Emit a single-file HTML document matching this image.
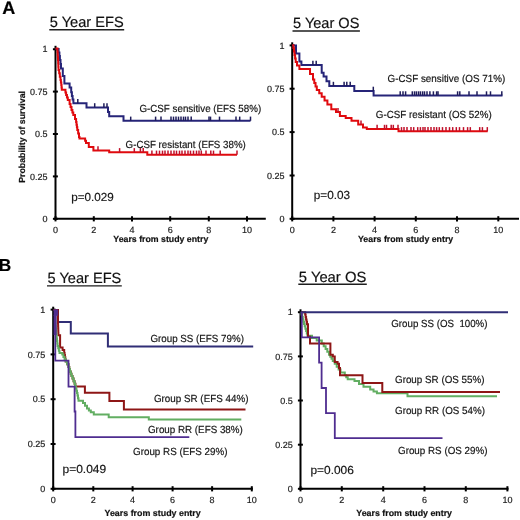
<!DOCTYPE html>
<html><head><meta charset="utf-8"><style>
html,body{margin:0;padding:0;background:#fff;}
body{width:520px;height:520px;overflow:hidden;}
svg{display:block;font-family:"Liberation Sans", sans-serif;text-rendering:geometricPrecision;filter:blur(0.35px);}
text{stroke-width:0.18px;}
</style></head><body>
<svg width="520" height="520" viewBox="0 0 520 520">
<rect width="520" height="520" fill="#fff"/>
<text x="2.2" y="14.4" font-size="18" font-weight="bold" fill="#000" stroke="#000">A</text>
<text x="-1.2" y="271.2" font-size="17.3" font-weight="bold" fill="#000" stroke="#000">B</text>
<text x="49.8" y="27.2" font-size="14.8" fill="#111" stroke="#111" textLength="73.9" lengthAdjust="spacingAndGlyphs">5 Year EFS</text><line x1="49.3" y1="29.8" x2="124.2" y2="29.8" stroke="#1e1e1e" stroke-width="1.4"/>
<line x1="55.5" y1="45.8" x2="55.5" y2="219.8" stroke="#000" stroke-width="2"/><line x1="54.5" y1="218.8" x2="265.8" y2="218.8" stroke="#000" stroke-width="2"/><line x1="52.9" y1="49.25" x2="57.9" y2="49.25" stroke="#000" stroke-width="2"/><text x="47.6" y="52.45" text-anchor="end" font-size="9" fill="#222" stroke="#222">1</text><line x1="52.9" y1="91.6" x2="57.9" y2="91.6" stroke="#000" stroke-width="2"/><text x="47.6" y="94.80" text-anchor="end" font-size="9" fill="#222" stroke="#222">0.75</text><line x1="52.9" y1="134.0" x2="57.9" y2="134.0" stroke="#000" stroke-width="2"/><text x="47.6" y="137.20" text-anchor="end" font-size="9" fill="#222" stroke="#222">0.5</text><line x1="52.9" y1="176.4" x2="57.9" y2="176.4" stroke="#000" stroke-width="2"/><text x="47.6" y="179.60" text-anchor="end" font-size="9" fill="#222" stroke="#222">0.25</text><line x1="52.9" y1="218.8" x2="57.9" y2="218.8" stroke="#000" stroke-width="2"/><text x="47.6" y="222.00" text-anchor="end" font-size="9" fill="#222" stroke="#222">0</text><line x1="55.5" y1="216.20000000000002" x2="55.5" y2="221.4" stroke="#000" stroke-width="2"/><text x="55.5" y="233.0" text-anchor="middle" font-size="9" fill="#222" stroke="#222">0</text><line x1="93.8" y1="216.20000000000002" x2="93.8" y2="221.4" stroke="#000" stroke-width="2"/><text x="93.8" y="233.0" text-anchor="middle" font-size="9" fill="#222" stroke="#222">2</text><line x1="132" y1="216.20000000000002" x2="132" y2="221.4" stroke="#000" stroke-width="2"/><text x="132" y="233.0" text-anchor="middle" font-size="9" fill="#222" stroke="#222">4</text><line x1="170.2" y1="216.20000000000002" x2="170.2" y2="221.4" stroke="#000" stroke-width="2"/><text x="170.2" y="233.0" text-anchor="middle" font-size="9" fill="#222" stroke="#222">6</text><line x1="208.8" y1="216.20000000000002" x2="208.8" y2="221.4" stroke="#000" stroke-width="2"/><text x="208.8" y="233.0" text-anchor="middle" font-size="9" fill="#222" stroke="#222">8</text><line x1="247" y1="216.20000000000002" x2="247" y2="221.4" stroke="#000" stroke-width="2"/><text x="247" y="233.0" text-anchor="middle" font-size="9" fill="#222" stroke="#222">10</text>
<text transform="translate(24.6,136.9) rotate(-90)" text-anchor="middle" font-size="8.8" font-weight="bold" fill="#111" stroke="#111" textLength="91.8" lengthAdjust="spacingAndGlyphs">Probability of survival</text>
<text x="113.3" y="241.8" font-size="8.8" font-weight="bold" fill="#111" stroke="#111" textLength="95" lengthAdjust="spacingAndGlyphs">Years from study entry</text>
<text x="71.3" y="201.0" font-size="11.7" font-weight="normal" fill="#151515" stroke="#151515" textLength="42.5" lengthAdjust="spacingAndGlyphs">p=0.029</text>
<polyline points="55.50,49.00 58.60,49.00 58.60,52.40 59.40,52.40 59.40,56.00 59.90,56.00 59.90,60.00 60.50,60.00 60.50,64.00 61.00,64.00 61.00,68.50 62.80,68.50 62.80,76.00 64.40,76.00 64.40,83.40 69.60,83.40 69.60,87.60 71.20,87.60 71.20,92.20 71.90,92.20 71.90,96.00 72.60,96.00 72.60,99.50 73.40,99.50 73.40,103.20 86.50,103.20 86.50,107.40 108.00,107.40 108.00,112.00 109.20,112.00 109.20,116.20 123.50,116.20 123.50,120.80 250.50,120.80" fill="none" stroke="#262478" stroke-width="2" stroke-linejoin="miter" stroke-linecap="butt"/>
<line x1="77.80" y1="103.20" x2="77.80" y2="99.00" stroke="#1e1c5a" stroke-width="1.5"/><line x1="94.70" y1="107.40" x2="94.70" y2="103.20" stroke="#1e1c5a" stroke-width="1.5"/><line x1="103.90" y1="107.40" x2="103.90" y2="103.20" stroke="#1e1c5a" stroke-width="1.5"/><line x1="107.00" y1="107.40" x2="107.00" y2="103.20" stroke="#1e1c5a" stroke-width="1.5"/><line x1="130.70" y1="120.80" x2="130.70" y2="116.60" stroke="#1e1c5a" stroke-width="1.5"/><line x1="155.60" y1="120.80" x2="155.60" y2="116.60" stroke="#1e1c5a" stroke-width="1.5"/><line x1="161.00" y1="120.80" x2="161.00" y2="116.60" stroke="#1e1c5a" stroke-width="1.5"/><line x1="171.00" y1="120.80" x2="171.00" y2="116.60" stroke="#1e1c5a" stroke-width="1.5"/><line x1="173.50" y1="120.80" x2="173.50" y2="116.60" stroke="#1e1c5a" stroke-width="1.5"/><line x1="176.00" y1="120.80" x2="176.00" y2="116.60" stroke="#1e1c5a" stroke-width="1.5"/><line x1="178.50" y1="120.80" x2="178.50" y2="116.60" stroke="#1e1c5a" stroke-width="1.5"/><line x1="181.00" y1="120.80" x2="181.00" y2="116.60" stroke="#1e1c5a" stroke-width="1.5"/><line x1="183.50" y1="120.80" x2="183.50" y2="116.60" stroke="#1e1c5a" stroke-width="1.5"/><line x1="185.50" y1="120.80" x2="185.50" y2="116.60" stroke="#1e1c5a" stroke-width="1.5"/><line x1="188.00" y1="120.80" x2="188.00" y2="116.60" stroke="#1e1c5a" stroke-width="1.5"/><line x1="191.20" y1="120.80" x2="191.20" y2="116.60" stroke="#1e1c5a" stroke-width="1.5"/><line x1="209.00" y1="120.80" x2="209.00" y2="116.60" stroke="#1e1c5a" stroke-width="1.5"/><line x1="210.50" y1="120.80" x2="210.50" y2="116.60" stroke="#1e1c5a" stroke-width="1.5"/><line x1="219.50" y1="120.80" x2="219.50" y2="116.60" stroke="#1e1c5a" stroke-width="1.5"/><line x1="236.00" y1="120.80" x2="236.00" y2="116.60" stroke="#1e1c5a" stroke-width="1.5"/><line x1="239.70" y1="120.80" x2="239.70" y2="116.60" stroke="#1e1c5a" stroke-width="1.5"/><line x1="250.50" y1="120.80" x2="250.50" y2="116.60" stroke="#1e1c5a" stroke-width="1.5"/>
<polyline points="55.50,48.60 57.00,48.60 57.50,48.60 57.50,52.00 57.67,52.00 57.67,54.67 57.83,54.67 57.83,57.33 58.00,57.33 58.00,60.00 58.17,60.00 58.17,63.33 58.33,63.33 58.33,66.67 58.50,66.67 58.50,70.00 59.17,70.00 59.17,73.33 59.83,73.33 59.83,76.67 60.50,76.67 60.50,80.00 60.90,80.00 60.90,82.50 61.30,82.50 61.30,85.00 61.55,85.00 61.55,87.40 61.80,87.40 61.80,89.80 64.80,89.80 65.45,89.80 65.45,92.40 66.10,92.40 66.10,95.00 66.95,95.00 66.95,97.50 67.80,97.50 67.80,100.00 69.60,100.00 69.60,104.00 70.55,104.00 70.55,107.00 71.50,107.00 71.50,110.00 72.40,110.00 72.40,112.50 73.30,112.50 73.30,115.00 75.00,115.00 75.00,119.00 76.10,119.00 76.10,122.00 76.50,122.00 76.50,124.67 76.90,124.67 76.90,127.33 77.30,127.33 77.30,130.00 78.15,130.00 78.15,133.50 79.00,133.50 79.00,137.00 79.50,137.00 79.50,138.40 84.20,138.40 85.10,138.40 85.10,140.70 86.00,140.70 86.00,143.00 88.80,143.00 88.80,147.00 93.40,147.00 93.40,150.50 109.20,150.50 109.20,152.30 147.30,152.30 147.30,154.80 237.00,154.80" fill="none" stroke="#e00a0e" stroke-width="2" stroke-linejoin="miter" stroke-linecap="butt"/>
<line x1="98.00" y1="150.50" x2="98.00" y2="146.30" stroke="#c0102a" stroke-width="1.5"/><line x1="119.60" y1="152.30" x2="119.60" y2="148.10" stroke="#c0102a" stroke-width="1.5"/><line x1="134.30" y1="152.30" x2="134.30" y2="148.10" stroke="#c0102a" stroke-width="1.5"/><line x1="140.40" y1="152.30" x2="140.40" y2="148.10" stroke="#c0102a" stroke-width="1.5"/><line x1="143.20" y1="152.30" x2="143.20" y2="148.10" stroke="#c0102a" stroke-width="1.5"/><line x1="151.90" y1="154.80" x2="151.90" y2="150.60" stroke="#c0102a" stroke-width="1.5"/><line x1="156.50" y1="154.80" x2="156.50" y2="150.60" stroke="#c0102a" stroke-width="1.5"/><line x1="159.50" y1="154.80" x2="159.50" y2="150.60" stroke="#c0102a" stroke-width="1.5"/><line x1="162.50" y1="154.80" x2="162.50" y2="150.60" stroke="#c0102a" stroke-width="1.5"/><line x1="165.00" y1="154.80" x2="165.00" y2="150.60" stroke="#c0102a" stroke-width="1.5"/><line x1="168.00" y1="154.80" x2="168.00" y2="150.60" stroke="#c0102a" stroke-width="1.5"/><line x1="171.00" y1="154.80" x2="171.00" y2="150.60" stroke="#c0102a" stroke-width="1.5"/><line x1="174.00" y1="154.80" x2="174.00" y2="150.60" stroke="#c0102a" stroke-width="1.5"/><line x1="176.50" y1="154.80" x2="176.50" y2="150.60" stroke="#c0102a" stroke-width="1.5"/><line x1="179.50" y1="154.80" x2="179.50" y2="150.60" stroke="#c0102a" stroke-width="1.5"/><line x1="182.00" y1="154.80" x2="182.00" y2="150.60" stroke="#c0102a" stroke-width="1.5"/><line x1="185.00" y1="154.80" x2="185.00" y2="150.60" stroke="#c0102a" stroke-width="1.5"/><line x1="188.00" y1="154.80" x2="188.00" y2="150.60" stroke="#c0102a" stroke-width="1.5"/><line x1="190.50" y1="154.80" x2="190.50" y2="150.60" stroke="#c0102a" stroke-width="1.5"/><line x1="193.50" y1="154.80" x2="193.50" y2="150.60" stroke="#c0102a" stroke-width="1.5"/><line x1="196.50" y1="154.80" x2="196.50" y2="150.60" stroke="#c0102a" stroke-width="1.5"/><line x1="199.00" y1="154.80" x2="199.00" y2="150.60" stroke="#c0102a" stroke-width="1.5"/><line x1="201.30" y1="154.80" x2="201.30" y2="150.60" stroke="#c0102a" stroke-width="1.5"/><line x1="206.00" y1="154.80" x2="206.00" y2="150.60" stroke="#c0102a" stroke-width="1.5"/><line x1="210.80" y1="154.80" x2="210.80" y2="150.60" stroke="#c0102a" stroke-width="1.5"/><line x1="213.50" y1="154.80" x2="213.50" y2="150.60" stroke="#c0102a" stroke-width="1.5"/><line x1="220.20" y1="154.80" x2="220.20" y2="150.60" stroke="#c0102a" stroke-width="1.5"/><line x1="237.00" y1="154.80" x2="237.00" y2="150.60" stroke="#c0102a" stroke-width="1.5"/>
<text x="139.4" y="111.6" font-size="10.3" font-weight="normal" fill="#151515" stroke="#151515" textLength="121.8" lengthAdjust="spacingAndGlyphs">G-CSF sensitive (EFS 58%)</text>
<text x="125.6" y="148.1" font-size="10.3" font-weight="normal" fill="#151515" stroke="#151515" textLength="120.2" lengthAdjust="spacingAndGlyphs">G-CSF resistant (EFS 38%)</text>
<text x="293.0" y="28.4" font-size="14.8" fill="#111" stroke="#111" textLength="66.4" lengthAdjust="spacingAndGlyphs">5 Year OS</text><line x1="292.5" y1="31.0" x2="359.9" y2="31.0" stroke="#1e1e1e" stroke-width="1.4"/>
<line x1="292.2" y1="42.3" x2="292.2" y2="219.8" stroke="#000" stroke-width="2"/><line x1="291.2" y1="218.8" x2="519" y2="218.8" stroke="#000" stroke-width="2"/><line x1="289.59999999999997" y1="45.4" x2="294.59999999999997" y2="45.4" stroke="#000" stroke-width="2"/><text x="284.6" y="48.60" text-anchor="end" font-size="9" fill="#222" stroke="#222">1</text><line x1="289.59999999999997" y1="88.7" x2="294.59999999999997" y2="88.7" stroke="#000" stroke-width="2"/><text x="284.6" y="91.90" text-anchor="end" font-size="9" fill="#222" stroke="#222">0.75</text><line x1="289.59999999999997" y1="132.1" x2="294.59999999999997" y2="132.1" stroke="#000" stroke-width="2"/><text x="284.6" y="135.30" text-anchor="end" font-size="9" fill="#222" stroke="#222">0.5</text><line x1="289.59999999999997" y1="175.5" x2="294.59999999999997" y2="175.5" stroke="#000" stroke-width="2"/><text x="284.6" y="178.70" text-anchor="end" font-size="9" fill="#222" stroke="#222">0.25</text><line x1="289.59999999999997" y1="218.8" x2="294.59999999999997" y2="218.8" stroke="#000" stroke-width="2"/><text x="284.6" y="222.00" text-anchor="end" font-size="9" fill="#222" stroke="#222">0</text><line x1="292.2" y1="216.20000000000002" x2="292.2" y2="221.4" stroke="#000" stroke-width="2"/><text x="292.2" y="233.0" text-anchor="middle" font-size="9" fill="#222" stroke="#222">0</text><line x1="333.4" y1="216.20000000000002" x2="333.4" y2="221.4" stroke="#000" stroke-width="2"/><text x="333.4" y="233.0" text-anchor="middle" font-size="9" fill="#222" stroke="#222">2</text><line x1="374.6" y1="216.20000000000002" x2="374.6" y2="221.4" stroke="#000" stroke-width="2"/><text x="374.6" y="233.0" text-anchor="middle" font-size="9" fill="#222" stroke="#222">4</text><line x1="415.8" y1="216.20000000000002" x2="415.8" y2="221.4" stroke="#000" stroke-width="2"/><text x="415.8" y="233.0" text-anchor="middle" font-size="9" fill="#222" stroke="#222">6</text><line x1="457" y1="216.20000000000002" x2="457" y2="221.4" stroke="#000" stroke-width="2"/><text x="457" y="233.0" text-anchor="middle" font-size="9" fill="#222" stroke="#222">8</text><line x1="498.3" y1="216.20000000000002" x2="498.3" y2="221.4" stroke="#000" stroke-width="2"/><text x="498.3" y="233.0" text-anchor="middle" font-size="9" fill="#222" stroke="#222">10</text>
<text x="358" y="241.8" font-size="8.8" font-weight="bold" fill="#111" stroke="#111" textLength="95.2" lengthAdjust="spacingAndGlyphs">Years from study entry</text>
<text x="313.8" y="199.1" font-size="11.7" font-weight="normal" fill="#151515" stroke="#151515" textLength="36.3" lengthAdjust="spacingAndGlyphs">p=0.03</text>
<polyline points="292.20,45.40 296.00,45.40 296.00,53.50 299.40,53.50 299.40,61.50 301.40,61.50 301.40,64.90 321.70,64.90 321.70,72.70 323.60,72.70 323.60,76.50 326.50,76.50 326.50,81.30 329.30,81.30 329.30,86.00 354.30,86.00 354.30,90.90 373.60,90.90 373.60,95.50 502.50,95.50" fill="none" stroke="#262478" stroke-width="2" stroke-linejoin="miter" stroke-linecap="butt"/>
<line x1="312.90" y1="64.90" x2="312.90" y2="60.70" stroke="#1e1c5a" stroke-width="1.5"/><line x1="316.20" y1="64.90" x2="316.20" y2="60.70" stroke="#1e1c5a" stroke-width="1.5"/><line x1="333.40" y1="86.00" x2="333.40" y2="81.80" stroke="#1e1c5a" stroke-width="1.5"/><line x1="344.10" y1="86.00" x2="344.10" y2="81.80" stroke="#1e1c5a" stroke-width="1.5"/><line x1="346.80" y1="86.00" x2="346.80" y2="81.80" stroke="#1e1c5a" stroke-width="1.5"/><line x1="350.20" y1="86.00" x2="350.20" y2="81.80" stroke="#1e1c5a" stroke-width="1.5"/><line x1="373.30" y1="90.90" x2="373.30" y2="86.70" stroke="#1e1c5a" stroke-width="1.5"/><line x1="400.20" y1="95.50" x2="400.20" y2="91.30" stroke="#1e1c5a" stroke-width="1.5"/><line x1="403.00" y1="95.50" x2="403.00" y2="91.30" stroke="#1e1c5a" stroke-width="1.5"/><line x1="405.60" y1="95.50" x2="405.60" y2="91.30" stroke="#1e1c5a" stroke-width="1.5"/><line x1="412.30" y1="95.50" x2="412.30" y2="91.30" stroke="#1e1c5a" stroke-width="1.5"/><line x1="414.50" y1="95.50" x2="414.50" y2="91.30" stroke="#1e1c5a" stroke-width="1.5"/><line x1="416.40" y1="95.50" x2="416.40" y2="91.30" stroke="#1e1c5a" stroke-width="1.5"/><line x1="418.50" y1="95.50" x2="418.50" y2="91.30" stroke="#1e1c5a" stroke-width="1.5"/><line x1="420.40" y1="95.50" x2="420.40" y2="91.30" stroke="#1e1c5a" stroke-width="1.5"/><line x1="422.60" y1="95.50" x2="422.60" y2="91.30" stroke="#1e1c5a" stroke-width="1.5"/><line x1="424.50" y1="95.50" x2="424.50" y2="91.30" stroke="#1e1c5a" stroke-width="1.5"/><line x1="427.00" y1="95.50" x2="427.00" y2="91.30" stroke="#1e1c5a" stroke-width="1.5"/><line x1="429.90" y1="95.50" x2="429.90" y2="91.30" stroke="#1e1c5a" stroke-width="1.5"/><line x1="433.40" y1="95.50" x2="433.40" y2="91.30" stroke="#1e1c5a" stroke-width="1.5"/><line x1="436.60" y1="95.50" x2="436.60" y2="91.30" stroke="#1e1c5a" stroke-width="1.5"/><line x1="438.00" y1="95.50" x2="438.00" y2="91.30" stroke="#1e1c5a" stroke-width="1.5"/><line x1="457.60" y1="95.50" x2="457.60" y2="91.30" stroke="#1e1c5a" stroke-width="1.5"/><line x1="459.80" y1="95.50" x2="459.80" y2="91.30" stroke="#1e1c5a" stroke-width="1.5"/><line x1="469.00" y1="95.50" x2="469.00" y2="91.30" stroke="#1e1c5a" stroke-width="1.5"/><line x1="477.00" y1="95.50" x2="477.00" y2="91.30" stroke="#1e1c5a" stroke-width="1.5"/><line x1="486.50" y1="95.50" x2="486.50" y2="91.30" stroke="#1e1c5a" stroke-width="1.5"/><line x1="490.50" y1="95.50" x2="490.50" y2="91.30" stroke="#1e1c5a" stroke-width="1.5"/><line x1="501.80" y1="95.50" x2="501.80" y2="91.30" stroke="#1e1c5a" stroke-width="1.5"/>
<polyline points="292.20,45.20 293.40,45.20 293.40,48.00 293.95,48.00 293.95,51.50 294.50,51.50 294.50,55.00 295.10,55.00 295.10,58.50 295.70,58.50 295.70,62.00 297.00,62.00 297.00,65.60 299.40,65.60 299.40,68.90 307.20,68.90 310.00,68.90 310.00,74.00 313.00,74.00 313.00,79.40 314.27,79.40 314.27,82.93 315.53,82.93 315.53,86.47 316.80,86.47 316.80,90.00 319.25,90.00 319.25,93.35 321.70,93.35 321.70,96.70 324.55,96.70 324.55,100.55 327.40,100.55 327.40,104.40 331.30,104.40 331.30,109.20 336.00,109.20 336.00,112.10 339.90,112.10 339.90,116.00 345.70,116.00 345.70,117.90 351.50,117.90 351.50,120.80 358.20,120.80 358.20,124.60 363.00,124.60 363.00,127.50 366.80,127.50 366.80,129.00 398.50,129.00 398.50,131.30 487.70,131.30" fill="none" stroke="#e00a0e" stroke-width="2" stroke-linejoin="miter" stroke-linecap="butt"/>
<line x1="338.00" y1="112.10" x2="338.00" y2="107.90" stroke="#c0102a" stroke-width="1.5"/><line x1="361.00" y1="124.60" x2="361.00" y2="120.40" stroke="#c0102a" stroke-width="1.5"/><line x1="377.10" y1="129.00" x2="377.10" y2="124.80" stroke="#c0102a" stroke-width="1.5"/><line x1="384.50" y1="129.00" x2="384.50" y2="124.80" stroke="#c0102a" stroke-width="1.5"/><line x1="386.50" y1="129.00" x2="386.50" y2="124.80" stroke="#c0102a" stroke-width="1.5"/><line x1="391.20" y1="129.00" x2="391.20" y2="124.80" stroke="#c0102a" stroke-width="1.5"/><line x1="393.30" y1="129.00" x2="393.30" y2="124.80" stroke="#c0102a" stroke-width="1.5"/><line x1="398.00" y1="129.00" x2="398.00" y2="124.80" stroke="#c0102a" stroke-width="1.5"/><line x1="401.50" y1="131.30" x2="401.50" y2="127.10" stroke="#c0102a" stroke-width="1.5"/><line x1="404.00" y1="131.30" x2="404.00" y2="127.10" stroke="#c0102a" stroke-width="1.5"/><line x1="407.00" y1="131.30" x2="407.00" y2="127.10" stroke="#c0102a" stroke-width="1.5"/><line x1="411.00" y1="131.30" x2="411.00" y2="127.10" stroke="#c0102a" stroke-width="1.5"/><line x1="413.70" y1="131.30" x2="413.70" y2="127.10" stroke="#c0102a" stroke-width="1.5"/><line x1="417.70" y1="131.30" x2="417.70" y2="127.10" stroke="#c0102a" stroke-width="1.5"/><line x1="420.40" y1="131.30" x2="420.40" y2="127.10" stroke="#c0102a" stroke-width="1.5"/><line x1="423.00" y1="131.30" x2="423.00" y2="127.10" stroke="#c0102a" stroke-width="1.5"/><line x1="425.00" y1="131.30" x2="425.00" y2="127.10" stroke="#c0102a" stroke-width="1.5"/><line x1="428.00" y1="131.30" x2="428.00" y2="127.10" stroke="#c0102a" stroke-width="1.5"/><line x1="431.00" y1="131.30" x2="431.00" y2="127.10" stroke="#c0102a" stroke-width="1.5"/><line x1="434.00" y1="131.30" x2="434.00" y2="127.10" stroke="#c0102a" stroke-width="1.5"/><line x1="436.60" y1="131.30" x2="436.60" y2="127.10" stroke="#c0102a" stroke-width="1.5"/><line x1="439.30" y1="131.30" x2="439.30" y2="127.10" stroke="#c0102a" stroke-width="1.5"/><line x1="442.50" y1="131.30" x2="442.50" y2="127.10" stroke="#c0102a" stroke-width="1.5"/><line x1="446.00" y1="131.30" x2="446.00" y2="127.10" stroke="#c0102a" stroke-width="1.5"/><line x1="449.50" y1="131.30" x2="449.50" y2="127.10" stroke="#c0102a" stroke-width="1.5"/><line x1="452.70" y1="131.30" x2="452.70" y2="127.10" stroke="#c0102a" stroke-width="1.5"/><line x1="456.30" y1="131.30" x2="456.30" y2="127.10" stroke="#c0102a" stroke-width="1.5"/><line x1="459.50" y1="131.30" x2="459.50" y2="127.10" stroke="#c0102a" stroke-width="1.5"/><line x1="463.50" y1="131.30" x2="463.50" y2="127.10" stroke="#c0102a" stroke-width="1.5"/><line x1="467.60" y1="131.30" x2="467.60" y2="127.10" stroke="#c0102a" stroke-width="1.5"/><line x1="470.30" y1="131.30" x2="470.30" y2="127.10" stroke="#c0102a" stroke-width="1.5"/><line x1="479.70" y1="131.30" x2="479.70" y2="127.10" stroke="#c0102a" stroke-width="1.5"/><line x1="482.40" y1="131.30" x2="482.40" y2="127.10" stroke="#c0102a" stroke-width="1.5"/><line x1="487.30" y1="131.30" x2="487.30" y2="127.10" stroke="#c0102a" stroke-width="1.5"/>
<text x="387.5" y="82.4" font-size="10.3" font-weight="normal" fill="#151515" stroke="#151515" textLength="117.7" lengthAdjust="spacingAndGlyphs">G-CSF sensitive (OS 71%)</text>
<text x="375.8" y="117.9" font-size="10.3" font-weight="normal" fill="#151515" stroke="#151515" textLength="115.9" lengthAdjust="spacingAndGlyphs">G-CSF resistant (OS 52%)</text>
<text x="47.5" y="283.2" font-size="14.8" fill="#111" stroke="#111" textLength="73.8" lengthAdjust="spacingAndGlyphs">5 Year EFS</text><line x1="47.0" y1="285.9" x2="121.8" y2="285.9" stroke="#1e1e1e" stroke-width="1.4"/>
<line x1="53.2" y1="306.7" x2="53.2" y2="489.8" stroke="#000" stroke-width="2"/><line x1="52.2" y1="488.8" x2="252.8" y2="488.8" stroke="#000" stroke-width="2"/><line x1="50.6" y1="309.6" x2="55.6" y2="309.6" stroke="#000" stroke-width="2"/><text x="45.2" y="312.80" text-anchor="end" font-size="9" fill="#222" stroke="#222">1</text><line x1="50.6" y1="354.4" x2="55.6" y2="354.4" stroke="#000" stroke-width="2"/><text x="45.2" y="357.60" text-anchor="end" font-size="9" fill="#222" stroke="#222">0.75</text><line x1="50.6" y1="399.2" x2="55.6" y2="399.2" stroke="#000" stroke-width="2"/><text x="45.2" y="402.40" text-anchor="end" font-size="9" fill="#222" stroke="#222">0.5</text><line x1="50.6" y1="444.0" x2="55.6" y2="444.0" stroke="#000" stroke-width="2"/><text x="45.2" y="447.20" text-anchor="end" font-size="9" fill="#222" stroke="#222">0.25</text><line x1="50.6" y1="488.8" x2="55.6" y2="488.8" stroke="#000" stroke-width="2"/><text x="45.2" y="492.00" text-anchor="end" font-size="9" fill="#222" stroke="#222">0</text><line x1="53.2" y1="486.2" x2="53.2" y2="491.40000000000003" stroke="#000" stroke-width="2"/><text x="53.2" y="502.5" text-anchor="middle" font-size="9" fill="#222" stroke="#222">0</text><line x1="93.3" y1="486.2" x2="93.3" y2="491.40000000000003" stroke="#000" stroke-width="2"/><text x="93.3" y="502.5" text-anchor="middle" font-size="9" fill="#222" stroke="#222">2</text><line x1="132.6" y1="486.2" x2="132.6" y2="491.40000000000003" stroke="#000" stroke-width="2"/><text x="132.6" y="502.5" text-anchor="middle" font-size="9" fill="#222" stroke="#222">4</text><line x1="172.6" y1="486.2" x2="172.6" y2="491.40000000000003" stroke="#000" stroke-width="2"/><text x="172.6" y="502.5" text-anchor="middle" font-size="9" fill="#222" stroke="#222">6</text><line x1="212.1" y1="486.2" x2="212.1" y2="491.40000000000003" stroke="#000" stroke-width="2"/><text x="212.1" y="502.5" text-anchor="middle" font-size="9" fill="#222" stroke="#222">8</text><line x1="251.8" y1="486.2" x2="251.8" y2="491.40000000000003" stroke="#000" stroke-width="2"/><text x="251.8" y="502.5" text-anchor="middle" font-size="9" fill="#222" stroke="#222">10</text>
<text x="104.5" y="515.5" font-size="8.8" font-weight="bold" fill="#111" stroke="#111" textLength="96.2" lengthAdjust="spacingAndGlyphs">Years from study entry</text>
<text x="62.5" y="473.0" font-size="11.7" font-weight="normal" fill="#151515" stroke="#151515" textLength="43.7" lengthAdjust="spacingAndGlyphs">p=0.049</text>
<polyline points="53.50,310.00 58.00,310.00 58.00,322.00 70.80,322.00 70.80,333.60 107.90,333.60 107.90,346.60 253.20,346.60" fill="none" stroke="#302e76" stroke-width="2" stroke-linejoin="miter" stroke-linecap="butt"/>
<polyline points="53.50,310.00 57.80,310.00 57.80,316.00 57.88,316.00 57.88,318.50 57.95,318.50 57.95,321.00 58.02,321.00 58.02,323.50 58.10,323.50 58.10,326.00 58.17,326.00 58.17,328.32 58.25,328.32 58.25,330.65 58.33,330.65 58.33,332.98 58.40,332.98 58.40,335.30 60.10,335.30 60.10,347.50 61.80,347.50 62.60,347.50 62.60,350.00 64.20,350.00 64.20,353.00 64.58,353.00 64.58,355.12 64.95,355.12 64.95,357.25 65.33,357.25 65.33,359.38 65.70,359.38 65.70,361.50 67.10,361.50 67.10,364.25 68.50,364.25 68.50,367.00 69.25,367.00 69.25,369.25 70.00,369.25 70.00,371.50 70.75,371.50 70.75,373.75 71.50,373.75 71.50,376.00 72.53,376.00 72.53,378.60 73.57,378.60 73.57,381.20 74.60,381.20 74.60,383.80 75.40,383.80 75.40,386.60 84.90,386.60 84.90,392.80 109.40,392.80 109.40,401.00 123.90,401.00 123.90,409.60 245.50,409.60" fill="none" stroke="#8e1616" stroke-width="2" stroke-linejoin="miter" stroke-linecap="butt"/>
<polyline points="55.00,310.00 55.00,318.00 55.17,318.00 55.17,320.67 55.33,320.67 55.33,323.33 55.50,323.33 55.50,326.00 55.73,326.00 55.73,328.50 55.95,328.50 55.95,331.00 56.17,331.00 56.17,333.50 56.40,333.50 56.40,336.00 56.70,336.00 56.70,338.50 57.00,338.50 57.00,341.00 57.30,341.00 57.30,343.50 57.60,343.50 57.60,346.00 58.23,346.00 58.23,348.33 58.87,348.33 58.87,350.67 59.50,350.67 59.50,353.00 62.30,353.00 62.30,354.60 63.43,354.60 63.43,356.90 64.57,356.90 64.57,359.20 65.70,359.20 65.70,361.50 67.10,361.50 67.10,364.25 68.50,364.25 68.50,367.00 69.25,367.00 69.25,369.25 70.00,369.25 70.00,371.50 70.75,371.50 70.75,373.75 71.50,373.75 71.50,376.00 72.53,376.00 72.53,378.60 73.57,378.60 73.57,381.20 74.60,381.20 74.60,383.80 75.20,383.80 75.20,386.10 75.80,386.10 75.80,388.40 76.40,388.40 76.40,390.70 77.00,390.70 77.00,393.00 77.50,393.00 77.50,395.60 78.00,395.60 78.00,398.20 78.50,398.20 78.50,400.80 83.00,400.80 83.00,403.00 85.00,403.00 85.00,405.75 87.00,405.75 87.00,408.50 88.90,408.50 88.90,410.40 90.80,410.40 90.80,412.30 93.80,412.30 93.80,414.60 108.70,414.60 108.70,417.20 148.80,417.20 148.80,419.60 241.30,419.60" fill="none" stroke="#62ae62" stroke-width="2" stroke-linejoin="miter" stroke-linecap="butt"/>
<polyline points="55.30,310.20 55.30,360.60 68.50,360.60 68.50,386.60 74.60,386.60 74.60,411.50 75.40,411.50 75.40,437.20 189.30,437.20" fill="none" stroke="#4f2d90" stroke-width="1.8" stroke-linejoin="miter" stroke-linecap="butt"/>
<rect x="53.6" y="309.3" width="4.3" height="6.4" fill="#4f2d90"/><rect x="53.6" y="315" width="3.0" height="20" fill="#4f2d90"/>
<text x="150.4" y="341.9" font-size="10.3" font-weight="normal" fill="#151515" stroke="#151515" textLength="93.5" lengthAdjust="spacingAndGlyphs">Group SS (EFS 79%)</text>
<text x="153.9" y="402.0" font-size="10.3" font-weight="normal" fill="#151515" stroke="#151515" textLength="94.6" lengthAdjust="spacingAndGlyphs">Group SR (EFS 44%)</text>
<text x="148.0" y="432.6" font-size="10.3" font-weight="normal" fill="#151515" stroke="#151515" textLength="94.8" lengthAdjust="spacingAndGlyphs">Group RR (EFS 38%)</text>
<text x="133.0" y="454.5" font-size="10.3" font-weight="normal" fill="#151515" stroke="#151515" textLength="94.5" lengthAdjust="spacingAndGlyphs">Group RS (EFS 29%)</text>
<text x="298.8" y="281.7" font-size="14.8" fill="#111" stroke="#111" textLength="67.5" lengthAdjust="spacingAndGlyphs">5 Year OS</text><line x1="298.3" y1="284.2" x2="366.8" y2="284.2" stroke="#1e1e1e" stroke-width="1.4"/>
<line x1="300.5" y1="309.3" x2="300.5" y2="489.8" stroke="#000" stroke-width="2"/><line x1="299.5" y1="488.8" x2="508.5" y2="488.8" stroke="#000" stroke-width="2"/><line x1="297.9" y1="312.2" x2="302.9" y2="312.2" stroke="#000" stroke-width="2"/><text x="292.7" y="315.40" text-anchor="end" font-size="9" fill="#222" stroke="#222">1</text><line x1="297.9" y1="356.4" x2="302.9" y2="356.4" stroke="#000" stroke-width="2"/><text x="292.7" y="359.60" text-anchor="end" font-size="9" fill="#222" stroke="#222">0.75</text><line x1="297.9" y1="400.5" x2="302.9" y2="400.5" stroke="#000" stroke-width="2"/><text x="292.7" y="403.70" text-anchor="end" font-size="9" fill="#222" stroke="#222">0.5</text><line x1="297.9" y1="444.7" x2="302.9" y2="444.7" stroke="#000" stroke-width="2"/><text x="292.7" y="447.90" text-anchor="end" font-size="9" fill="#222" stroke="#222">0.25</text><line x1="297.9" y1="488.8" x2="302.9" y2="488.8" stroke="#000" stroke-width="2"/><text x="292.7" y="492.00" text-anchor="end" font-size="9" fill="#222" stroke="#222">0</text><line x1="300.5" y1="486.2" x2="300.5" y2="491.40000000000003" stroke="#000" stroke-width="2"/><text x="300.5" y="502.5" text-anchor="middle" font-size="9" fill="#222" stroke="#222">0</text><line x1="341.8" y1="486.2" x2="341.8" y2="491.40000000000003" stroke="#000" stroke-width="2"/><text x="341.8" y="502.5" text-anchor="middle" font-size="9" fill="#222" stroke="#222">2</text><line x1="383.2" y1="486.2" x2="383.2" y2="491.40000000000003" stroke="#000" stroke-width="2"/><text x="383.2" y="502.5" text-anchor="middle" font-size="9" fill="#222" stroke="#222">4</text><line x1="424.5" y1="486.2" x2="424.5" y2="491.40000000000003" stroke="#000" stroke-width="2"/><text x="424.5" y="502.5" text-anchor="middle" font-size="9" fill="#222" stroke="#222">6</text><line x1="465.8" y1="486.2" x2="465.8" y2="491.40000000000003" stroke="#000" stroke-width="2"/><text x="465.8" y="502.5" text-anchor="middle" font-size="9" fill="#222" stroke="#222">8</text><line x1="507.4" y1="486.2" x2="507.4" y2="491.40000000000003" stroke="#000" stroke-width="2"/><text x="507.4" y="502.5" text-anchor="middle" font-size="9" fill="#222" stroke="#222">10</text>
<text x="356.3" y="515.5" font-size="8.8" font-weight="bold" fill="#111" stroke="#111" textLength="95.7" lengthAdjust="spacingAndGlyphs">Years from study entry</text>
<text x="310.5" y="474.0" font-size="11.7" font-weight="normal" fill="#151515" stroke="#151515" textLength="43.3" lengthAdjust="spacingAndGlyphs">p=0.006</text>
<polyline points="301.00,312.20 301.60,312.20 301.60,314.56 302.20,314.56 302.20,316.92 302.80,316.92 302.80,319.28 303.40,319.28 303.40,321.64 304.00,321.64 304.00,324.00 304.70,324.00 304.70,326.36 305.40,326.36 305.40,328.72 306.10,328.72 306.10,331.08 306.80,331.08 306.80,333.44 307.50,333.44 307.50,335.80 312.00,335.80 312.00,338.00 316.70,338.00 316.70,340.60 321.80,340.60 321.80,343.60 323.70,343.60 323.70,346.25 325.60,346.25 325.60,348.90 327.30,348.90 327.30,351.80 329.00,351.80 329.00,354.70 330.27,354.70 330.27,356.77 331.53,356.77 331.53,358.83 332.80,358.83 332.80,360.90 334.75,360.90 334.75,363.80 336.70,363.80 336.70,366.70 338.60,366.70 338.60,369.60 340.50,369.60 340.50,372.50 344.80,372.50 344.80,375.30 346.25,375.30 346.25,377.25 347.70,377.25 347.70,379.20 354.50,379.20 354.50,381.10 359.00,381.10 359.00,383.90 363.50,383.90 363.50,386.70 370.20,386.70 370.20,389.60 373.55,389.60 373.55,391.45 376.90,391.45 376.90,393.30 407.50,393.30 407.50,396.20 497.00,396.20" fill="none" stroke="#62ae62" stroke-width="2" stroke-linejoin="miter" stroke-linecap="butt"/>
<polyline points="301.00,312.20 304.70,312.20 305.16,312.20 305.16,314.60 305.62,314.60 305.62,317.00 306.08,317.00 306.08,319.40 306.54,319.40 306.54,321.80 307.00,321.80 307.00,324.20 308.00,324.20 308.00,336.70 310.00,336.70 310.00,343.60 330.40,343.60 330.40,354.70 332.80,354.70 332.80,356.60 334.75,356.60 334.75,358.00 334.75,361.90 337.60,361.90 337.60,363.80 339.00,363.80 339.00,368.10 340.00,368.10 340.00,375.20 362.50,375.20 362.50,382.90 382.30,382.90 382.30,392.00 500.00,392.00" fill="none" stroke="#8e1616" stroke-width="2" stroke-linejoin="miter" stroke-linecap="butt"/>
<polyline points="300.50,312.20 508.00,312.20" fill="none" stroke="#302e76" stroke-width="2" stroke-linejoin="miter" stroke-linecap="butt"/>
<polyline points="301.80,312.20 301.80,337.30 319.10,337.30 319.10,362.70 321.60,362.70 321.60,388.00 326.00,388.00 326.00,413.10 334.80,413.10 334.80,438.20 442.50,438.20" fill="none" stroke="#4f2d90" stroke-width="1.8" stroke-linejoin="miter" stroke-linecap="butt"/>
<text x="391.3" y="327.0" font-size="10.3" font-weight="normal" fill="#151515" stroke="#151515" textLength="96.2" lengthAdjust="spacingAndGlyphs">Group SS (OS&#160;&#160;100%)</text>
<text x="395.0" y="383.2" font-size="10.3" font-weight="normal" fill="#151515" stroke="#151515" textLength="89.5" lengthAdjust="spacingAndGlyphs">Group SR (OS 55%)</text>
<text x="395.0" y="413.8" font-size="10.3" font-weight="normal" fill="#151515" stroke="#151515" textLength="90.0" lengthAdjust="spacingAndGlyphs">Group RR (OS 54%)</text>
<text x="398.0" y="454.3" font-size="10.3" font-weight="normal" fill="#151515" stroke="#151515" textLength="89.5" lengthAdjust="spacingAndGlyphs">Group RS (OS 29%)</text>
</svg>
</body></html>
